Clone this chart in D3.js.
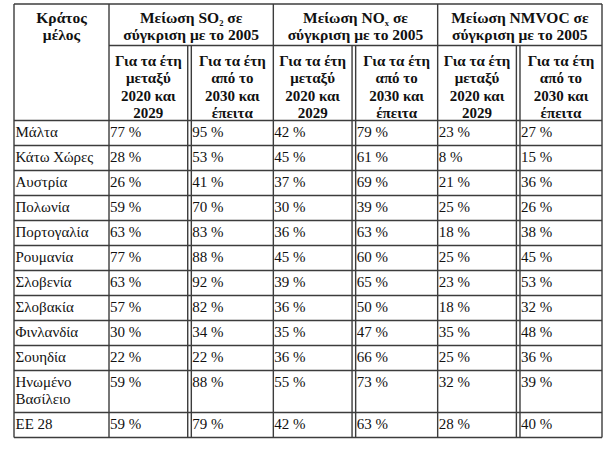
<!DOCTYPE html>
<html>
<head>
<meta charset="utf-8">
<script src="https://cdn.jsdelivr.net/npm/d3@7"></script>
<style>
  html, body { margin: 0; padding: 0; background: #fff; }
  svg { display: block; }
</style>
</head>
<body>
<svg id="chart" width="614" height="452"></svg>
<script>
// ---- data ----
const countries = [["Μάλτα"], ["Κάτω Χώρες"], ["Αυστρία"], ["Πολωνία"], ["Πορτογαλία"], ["Ρουμανία"],
  ["Σλοβενία"], ["Σλοβακία"], ["Φινλανδία"], ["Σουηδία"], ["Ηνωμένο", "Βασίλειο"], ["ΕΕ 28"]];
const so2_2020 = [77, 28, 26, 59, 63, 77, 63, 57, 30, 22, 59, 59];
const so2_2030 = [95, 53, 41, 70, 83, 88, 92, 82, 34, 22, 88, 79];
const nox_2020 = [42, 45, 37, 30, 36, 45, 39, 36, 35, 36, 55, 42];
const nox_2030 = [79, 61, 69, 39, 63, 60, 65, 50, 47, 66, 73, 63];
const nmvoc_2020 = [23, 8, 21, 25, 18, 25, 23, 18, 35, 25, 32, 28];
const nmvoc_2030 = [27, 15, 36, 26, 38, 45, 53, 32, 48, 36, 39, 40];
const firstHeader = ["Κράτος", "μέλος"];
const groupHeaders = [
  [[["Μείωση SO", ""], ["2", "sub"], [" σε", ""]], [["σύγκριση με το 2005", ""]]],
  [[["Μείωση NO", ""], ["x", "sub"], [" σε", ""]], [["σύγκριση με το 2005", ""]]],
  [[["Μείωση NMVOC σε", ""]], [["σύγκριση με το 2005", ""]]]
];
const subHeaders = [["Για τα έτη", "μεταξύ", "2020 και", "2029"], ["Για τα έτη", "από το", "2030 και", "έπειτα"]];
const seriesCols = [so2_2020, so2_2030, nox_2020, nox_2030, nmvoc_2020, nmvoc_2030];

// ---- layout ----
const svg = d3.select("#chart");
const lineColor = "#3c3c3c";
const font = "'Liberation Serif', 'Times New Roman', serif";
const tableLeft = 14, tableRight = 602, tableTop = 4, groupLine = 45.5, headTop = 120.5;
const firstColRight = 109;
// column edges of the 6 data columns (group edges evenly spaced, inner split slightly left)
const xg = d3.scaleLinear().domain([0, 3]).range([firstColRight, tableRight]);
const colEdges = [];
d3.range(3).forEach(gi => {
  colEdges.push(xg(gi));
  colEdges.push(xg(gi) + (xg(gi + 1) - xg(gi)) * 0.49);
});
colEdges.push(xg(3));
// row heights
const lineH = 17;
const rowH = countries.map(c => 25 + (c.length - 1) * lineH);
const rowTops = [headTop];
rowH.forEach((h, i) => rowTops.push(rowTops[i] + h));
const tableBottom = rowTops[rowTops.length - 1];

const g = svg.append("g");
const line = (x1, y1, x2, y2) => g.append("line")
  .attr("x1", x1).attr("y1", y1).attr("x2", x2).attr("y2", y2)
  .attr("stroke", lineColor).attr("stroke-width", 1.4);

// outer border
line(tableLeft, tableTop, tableRight, tableTop);
line(tableLeft, tableTop, tableLeft, tableBottom);
line(tableRight, tableTop, tableRight, tableBottom);
line(tableLeft, tableBottom, tableRight, tableBottom);
// first col
line(firstColRight, tableTop, firstColRight, tableBottom);
// group borders
[2, 4].forEach(i => line(colEdges[i], tableTop, colEdges[i], tableBottom));
// group sub-line
line(firstColRight, groupLine, tableRight, groupLine);
// double lines within groups
[1, 3, 5].forEach(i => {
  line(colEdges[i] - 1.8, groupLine, colEdges[i] - 1.8, tableBottom);
  line(colEdges[i] + 1.8, groupLine, colEdges[i] + 1.8, tableBottom);
});
// row lines
rowTops.slice(0, -1).forEach(y => line(tableLeft, y, tableRight, y));

// ---- header text ----
const hdr = svg.append("g").attr("font-family", font).attr("font-weight", "bold")
  .attr("font-size", "15.5px").attr("fill", "#111").attr("text-anchor", "middle");
firstHeader.forEach((t, i) => hdr.append("text")
  .attr("x", (tableLeft + firstColRight) / 2).attr("y", 23 + i * 17).text(t));
groupHeaders.forEach((lines, gi) => {
  const cx = (colEdges[gi * 2] + colEdges[gi * 2 + 2]) / 2;
  lines.forEach((parts, li) => {
    const t = hdr.append("text").attr("x", cx).attr("y", 23 + li * 17);
    parts.forEach(([s, kind]) => {
      const sp = t.append("tspan").text(s);
      if (kind === "sub") sp.attr("font-size", "8.5px").attr("dy", 2.5);
      else if (t.selectAll("tspan").size() > 1) sp.attr("dy", -2.5);
    });
  });
});
d3.range(6).forEach(ci => {
  const offL = ci % 2 === 1 ? 1.8 : 0;
  const offR = ci % 2 === 0 ? -1.8 : 0;
  const cx = (colEdges[ci] + offL + colEdges[ci + 1] + offR) / 2;
  subHeaders[ci % 2].forEach((t, li) => hdr.append("text")
    .attr("font-size", "15px")
    .attr("x", cx).attr("y", 66 + li * 17.3).text(t));
});

// ---- body text ----
const body = svg.append("g").attr("font-family", font).attr("font-size", "15px").attr("fill", "#111");
countries.forEach((c, ri) => {
  c.forEach((t, li) => body.append("text")
    .attr("x", tableLeft + 1.5).attr("y", rowTops[ri] + 16.5 + li * lineH).text(t));
  seriesCols.forEach((arr, ci) => {
    const left = colEdges[ci] + (ci % 2 === 1 ? 1.8 : 0) + 1;
    body.append("text").attr("x", left).attr("y", rowTops[ri] + 16.5).text(arr[ri] + " %");
  });
});
</script>
</body>
</html>
